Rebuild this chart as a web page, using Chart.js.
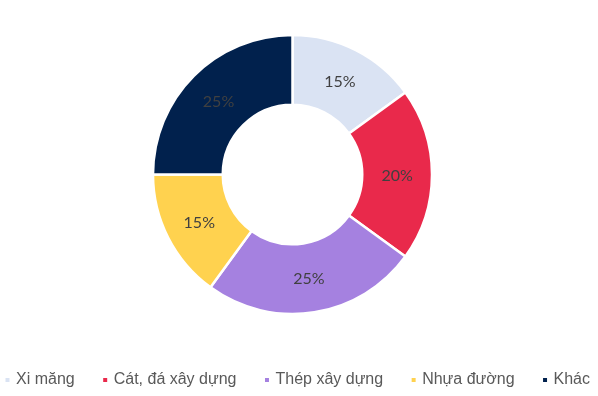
<!DOCTYPE html>
<html>
<head>
<meta charset="utf-8">
<script src="https://cdn.jsdelivr.net/npm/chart.js@4"></script>
<style>
  html, body { margin: 0; padding: 0; background: #ffffff; }
  canvas { display: block; }
</style>
</head>
<body>
<canvas id="c" width="598" height="396"></canvas>
<script>
const categories = ['Xi măng', 'Cát, đá xây dựng', 'Thép xây dựng', 'Nhựa đường', 'Khác'];
const shares = [15, 20, 25, 15, 25];
const sliceColors = ['#DAE3F3', '#E9294B', '#A581E0', '#FFD24F', '#01214D'];

// Keep the legend on a single row (the reference uses wide gaps between items)
const legendOneRow = {
  id: 'legendOneRow',
  beforeLayout(chart) {
    const lg = chart.legend;
    if (!lg || lg._oneRowPatched) return;
    lg._oneRowPatched = true;
    const fit = lg.fit, draw = lg.draw;
    lg.fit = function () {
      const mw = this.maxWidth;
      this.maxWidth = mw + 300;
      fit.call(this);
      this.maxWidth = mw;
      this.width = Math.min(this.width, mw);
    };
    lg.draw = function () {
      const l = this.left, r = this.right;
      this.left = l - 300 + 6;
      this.right = r + 300 + 6;
      draw.call(this);
      this.left = l;
      this.right = r;
    };
  }
};

const sliceLabels = {
  id: 'sliceLabels',
  afterDatasetsDraw(chart) {
    const ctx = chart.ctx;
    const meta = chart.getDatasetMeta(0);
    ctx.save();
    ctx.font = '16px Lato, "Open Sans", sans-serif';
    ctx.fillStyle = '#404040';
    ctx.textAlign = 'center';
    ctx.textBaseline = 'middle';
    meta.data.forEach((arc, i) => {
      const p = arc.tooltipPosition(true);
      ctx.fillText(shares[i] + '%', p.x, p.y + 1);
    });
    ctx.restore();
  }
};

new Chart(document.getElementById('c'), {
  type: 'doughnut',
  data: {
    labels: categories,
    datasets: [{
      data: shares,
      backgroundColor: sliceColors,
      borderColor: '#ffffff',
      borderWidth: 2.5,
      hoverOffset: 0,
      radius: 139.5,
      cutout: '50%'
    }]
  },
  options: {
    responsive: false,
    animation: false,
    events: [],
    layout: { padding: { top: 7, left: 0, right: 13, bottom: -2 } },
    plugins: {
      tooltip: { enabled: false },
      legend: {
        position: 'bottom',
        align: 'center',
        labels: {
          usePointStyle: true,
          pointStyle: 'rect',
          boxWidth: 1,
          boxHeight: 4,
          padding: 30,
          color: '#595959',
          font: { family: '"Liberation Sans", Arial, sans-serif', size: 16 },
          generateLabels(chart) {
            const ds = chart.data.datasets[0];
            return chart.data.labels.map((t, i) => ({
              text: t,
              fillStyle: ds.backgroundColor[i],
              strokeStyle: ds.backgroundColor[i],
              lineWidth: 0,
              fontColor: '#595959',
              pointStyle: 'rect',
              hidden: !chart.getDataVisibility(i),
              index: i
            }));
          }
        }
      }
    }
  },
  plugins: [legendOneRow, sliceLabels]
});
</script>
</body>
</html>
